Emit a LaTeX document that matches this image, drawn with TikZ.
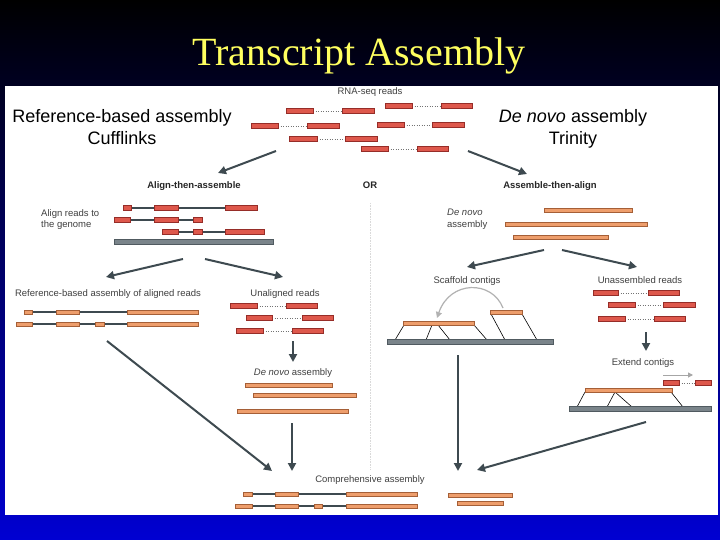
\documentclass[tikz,border=0pt]{standalone}
\usepackage{fontspec}
\setmainfont{Liberation Sans}
\newfontfamily\titlefont{Liberation Serif}
\usetikzlibrary{arrows.meta}

\definecolor{readred}{RGB}{222,88,76}
\definecolor{readedge}{RGB}{150,45,40}
\definecolor{contigor}{RGB}{238,158,108}
\definecolor{contigedge}{RGB}{165,95,55}
\definecolor{genomegray}{RGB}{122,132,138}
\definecolor{genomeedge}{RGB}{80,90,96}
\definecolor{flowgray}{RGB}{62,74,80}
\definecolor{titleyellow}{RGB}{255,255,95}
\definecolor{deepblue}{RGB}{0,0,210}
\definecolor{midblue}{RGB}{0,0,120}

\tikzset{
  read/.style={fill=readred,draw=readedge,line width=0.4pt},
  contig/.style={fill=contigor,draw=contigedge,line width=0.4pt},
  genome/.style={fill=genomegray,draw=genomeedge,line width=0.4pt},
  mate/.style={draw=black!55,dotted,line width=0.5pt},
  intron/.style={draw=flowgray,line width=1.1pt},
  leg/.style={draw=black,line width=0.6pt},
  flow/.style={draw=flowgray,line width=2pt,-{Triangle[length=8pt,width=8pt]}},
  figtext/.style={font=\fontsize{9.5}{11}\selectfont,text=black!75,inner sep=0pt,anchor=base},
  figbold/.style={figtext,font=\fontsize{9.5}{11}\selectfont\bfseries,text=black!85},
  head/.style={font=\fontsize{18}{21}\selectfont,inner sep=0pt,anchor=base},
}

\begin{document}
\begin{tikzpicture}[x=1pt,y=-1pt]
\useasboundingbox (0,0) rectangle (720,540);
\shade[top color=black,middle color=midblue,bottom color=deepblue] (0,0) rectangle (720,540);
\fill[white] (5,86) rectangle (718,515);

\node[font=\titlefont\fontsize{40}{44}\selectfont,text=titleyellow,anchor=base,inner sep=0pt]
  (title) at (359,66) {Transcript Assembly};

% headers
\node[head] (refhead) at (122,123) {Reference-based assembly};
\node[head] (refsub) at (122,145) {Cufflinks};
\node[head] (novohead) at (573,123) {\emph{De novo} assembly};
\node[head] (novosub) at (573,145) {Trinity};

% labels
\node[figtext] (rnaseq) at (370,95) {RNA-seq reads};
\node[figbold] (alignfirst) at (194,189) {Align-then-assemble};
\node[figbold] (ortext) at (370,189) {OR};
\node[figbold] (assemblefirst) at (550,189) {Assemble-then-align};
\node[figtext,anchor=base west] (alignto) at (41,216) {Align reads to};
\node[figtext,anchor=base west] (alignto2) at (41,227) {the genome};
\node[figtext,anchor=base west] (novoleft) at (447,215) {\emph{De novo}};
\node[figtext,anchor=base west] (novoleft2) at (447,227) {assembly};
\node[figtext] (refreads) at (108,296) {Reference-based assembly of aligned reads};
\node[figtext] (unaligned) at (285,296) {Unaligned reads};
\node[figtext] (scaffold) at (467,283) {Scaffold contigs};
\node[figtext] (unassembled) at (640,283) {Unassembled reads};
\node[figtext] (novomid) at (293,375) {\emph{De novo} assembly};
\node[figtext] (extend) at (643,365) {Extend contigs};
\node[figtext] (compre) at (370,482) {Comprehensive assembly};

% separator
\draw[black!15,densely dotted,line width=0.6pt] (370,203) -- (370,470);

% read pairs
\foreach \a/\b/\c/\d/\y in {385/412/441/472/106, 286/313/342/374/111,
    377/404/432/464/125, 251/278/307/339/126, 289/317/345/377/139,
    361/388/417/448/149,
    230/257/286/317/306, 246/272/302/333/318, 236/263/292/323/331,
    593/618/648/679/293, 608/635/663/695/305, 598/625/654/685/319,
    663/679/695/711/383}{
  \draw[mate] (\b,\y) -- (\c,\y);
  \draw[read] (\a,\y-2.4) rectangle (\b,\y+2.4);
  \draw[read] (\c,\y-2.4) rectangle (\d,\y+2.4);
}

% aligned reads
\draw[intron] (123,208) -- (257,208);
\foreach \s/\e in {123/131,154/178,225/257}
  \draw[read] (\s,205.6) rectangle (\e,210.4);
\draw[intron] (114,220) -- (202,220);
\foreach \s/\e in {114/130,154/178,193/202}
  \draw[read] (\s,217.6) rectangle (\e,222.4);
\draw[intron] (162,232) -- (264,232);
\foreach \s/\e in {162/178,193/202,225/264}
  \draw[read] (\s,229.6) rectangle (\e,234.4);
\draw[genome] (114,239.5) rectangle (273,244.5);

% reference-based transcripts
\draw[intron] (24,312) -- (198,312);
\foreach \s/\e in {24/32,56/79,127/198}
  \draw[contig] (\s,309.8) rectangle (\e,314.2);
\draw[intron] (16,324) -- (198,324);
\foreach \s/\e in {16/32,56/79,95/104,127/198}
  \draw[contig] (\s,321.8) rectangle (\e,326.2);

% contigs
\foreach \s/\e/\y in {245/332/385, 253/356/395, 237/348/411,
    544/632/210, 505/647/224, 513/608/237, 448/512/495, 457/503/503}
  \draw[contig] (\s,\y-2.2) rectangle (\e,\y+2.2);

% scaffold contigs
\foreach \p/\q in {404/395, 432/426, 438/450, 474/487}
  \draw[leg] (\p,325) -- (\q,340);
\foreach \p/\q in {491/505, 522/537}
  \draw[leg] (\p,314) -- (\q,340);
\draw[contig] (403,320.8) rectangle (474,325.2);
\draw[contig] (490,309.8) rectangle (522,314.2);
\draw[genome] (387,339.5) rectangle (553,344.5);
\draw[black!30,line width=1.2pt,-{Triangle[length=6pt,width=6pt]}]
  (503,308) .. controls (492,280) and (450,280) .. (437,318);

% extend contigs
\foreach \p/\q in {585/577, 615/607, 615/632, 671/683}
  \draw[leg] (\p,392) -- (\q,407);
\draw[contig] (585,387.8) rectangle (672,392.2);
\draw[genome] (569,406.5) rectangle (711,411.5);
\draw[black!35,line width=1pt,-{Triangle[length=5pt,width=5pt]}] (663,375) -- (693,375);

% comprehensive assembly
\draw[intron] (243,494) -- (417,494);
\foreach \s/\e in {243/252,275/298,346/417}
  \draw[contig] (\s,491.8) rectangle (\e,496.2);
\draw[intron] (235,506) -- (417,506);
\foreach \s/\e in {235/252,275/298,314/322,346/417}
  \draw[contig] (\s,503.8) rectangle (\e,508.2);

% arrow ends
\coordinate (rnaL) at (276,151);
\coordinate (rnaR) at (468,151);
\coordinate (alignhead) at (218,173);
\coordinate (assemblehead) at (527,174);
\coordinate (genomeL) at (183,259);
\coordinate (genomeR) at (205,259);
\coordinate (refin) at (106,277);
\coordinate (unalin) at (283,277);
\coordinate (unalout) at (293,341);
\coordinate (novoin) at (293,362);
\coordinate (refout) at (107,341);
\coordinate (compL) at (272,471);
\coordinate (novoout) at (292,423);
\coordinate (compM) at (292,471);
\coordinate (contigL) at (544,250);
\coordinate (contigR) at (562,250);
\coordinate (scafin) at (467,267);
\coordinate (unasin) at (637,267);
\coordinate (unasout) at (646,332);
\coordinate (extin) at (646,351);
\coordinate (scafout) at (458,355);
\coordinate (compR) at (458,471);
\coordinate (extout) at (646,422);
\coordinate (compRR) at (477,470);

\draw[flow] (rnaL) -- (alignhead);
\draw[flow] (rnaR) -- (assemblehead);
\draw[flow] (genomeL) -- (refin);
\draw[flow] (genomeR) -- (unalin);
\draw[flow] (unalout) -- (novoin);
\draw[flow] (refout) -- (compL);
\draw[flow] (novoout) -- (compM);
\draw[flow] (contigL) -- (scafin);
\draw[flow] (contigR) -- (unasin);
\draw[flow] (unasout) -- (extin);
\draw[flow] (scafout) -- (compR);
\draw[flow] (extout) -- (compRR);
\end{tikzpicture}
\end{document}
